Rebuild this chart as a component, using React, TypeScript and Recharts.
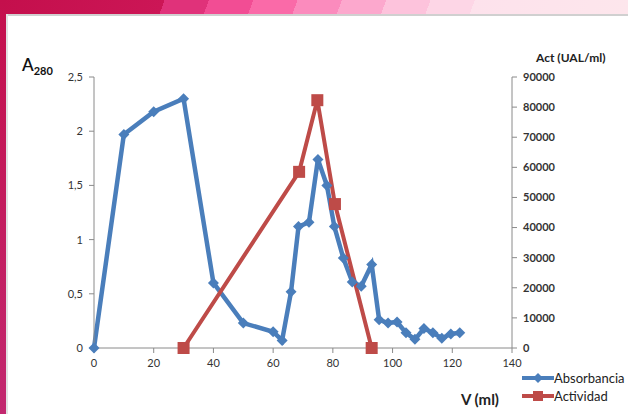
import React from "react"
import { ComposedChart, Line, XAxis, YAxis } from "recharts"

// Absorbancia (A280) vs V (ml)
const absVolumes = [0, 10, 20, 30, 40, 50, 60, 63, 66, 68.5, 72, 75, 78, 80.5, 83.5, 86.5, 89.5, 93, 95.5, 98.5, 101.5, 104.5, 107.5, 110.5, 113.5, 116.5, 119.5, 122.5]
const absValues = [0, 1.97, 2.18, 2.3, 0.6, 0.23, 0.15, 0.07, 0.52, 1.12, 1.16, 1.74, 1.5, 1.12, 0.83, 0.61, 0.57, 0.77, 0.26, 0.23, 0.24, 0.14, 0.08, 0.18, 0.14, 0.09, 0.13, 0.14]

// Actividad (UAL/ml) vs V (ml)
const actVolumes = [30, 68.7, 74.8, 80.7, 93]
const actValues = [0, 58500, 82300, 47800, 0]

const xTicks = [0, 20, 40, 60, 80, 100, 120, 140]
const leftTicks = [0, 0.5, 1, 1.5, 2, 2.5]
const rightTicks = [0, 10000, 20000, 30000, 40000, 50000, 60000, 70000, 80000, 90000]

const absData = absVolumes.map((x, i) => ({ x, abs: absValues[i] }))
const actData = actVolumes.map((x, i) => ({ x, act: actValues[i] }))

const BLUE = "#4a7ebb"
const RED = "#be4b48"
const FONT = "Lato, 'Open Sans', sans-serif"

const Diamond = (props: any) => {
  const { cx, cy, key } = props
  if (cx == null || cy == null) return null
  const r = 5.5
  return <path key={key} d={`M${cx},${cy - r}L${cx + r},${cy}L${cx},${cy + r}L${cx - r},${cy}Z`} fill={BLUE} />
}

const Square = (props: any) => {
  const { cx, cy, key } = props
  if (cx == null || cy == null) return null
  const s = 12
  return <rect key={key} x={cx - s / 2} y={cy - s / 2} width={s} height={s} fill={RED} />
}

const LegendBox = () => (
  <div style={{ fontFamily: FONT, fontSize: 13, color: "#222", lineHeight: "18px" }}>
    <div style={{ display: "flex", alignItems: "center" }}>
      <svg width={32} height={12}>
        <line x1={0} y1={6} x2={32} y2={6} stroke={BLUE} strokeWidth={4} />
        <path d="M16,1L21,6L16,11L11,6Z" fill={BLUE} />
      </svg>
      <span>Absorbancia</span>
    </div>
    <div style={{ display: "flex", alignItems: "center" }}>
      <svg width={32} height={12}>
        <line x1={0} y1={6} x2={32} y2={6} stroke={RED} strokeWidth={4} />
        <rect x={11} y={1} width={10} height={10} fill={RED} />
      </svg>
      <span>Actividad</span>
    </div>
  </div>
)

export default function App() {
  const tick = { fill: "#333", fontSize: 11, fontFamily: FONT }
  return (
    <div style={{ position: "absolute", left: 0, top: 0, width: 628, height: 414, overflow: "hidden", background: "#fff" }}>
      <div
        style={{
          position: "absolute", left: 0, top: 0, width: 628, height: 14,
          background:
            "linear-gradient(110deg, #c40f4c 0%, #cc1656 26%, #e0327a 26%, #e0327a 33%, #f24d94 33%, #f24d94 40%, #fa6aa8 40%, #fa6aa8 47%, #fb8bbd 47%, #fb8bbd 54%, #fca8cd 54%, #fca8cd 61%, #fdc3dc 61%, #fdc3dc 68%, #fdd6e6 68%, #fdd6e6 75%, #fde2ec 75%, #fde6ec 100%)",
        }}
      />
      <div style={{ position: "absolute", left: 0, top: 0, width: 6, height: 414, background: "linear-gradient(180deg, #c40f4c, #c2286f)" }} />
      <div style={{ position: "absolute", left: 6, top: 14, width: 622, height: 2, background: "#d0d0d0" }} />
      <div style={{ position: "absolute", left: 6, top: 14, width: 2, height: 400, background: "#e2e2e2" }} />

      <div style={{ position: "absolute", left: 22, top: 54, fontFamily: FONT, fontSize: 17, fontWeight: 600, color: "#111" }}>
        A<sub style={{ fontSize: 11, fontWeight: 700 }}>280</sub>
      </div>
      <div style={{ position: "absolute", left: 536, top: 50, fontFamily: FONT, fontSize: 12, fontWeight: 700, color: "#222" }}>
        Act (UAL/ml)
      </div>
      <div style={{ position: "absolute", left: 461, top: 390, fontFamily: FONT, fontSize: 15, fontWeight: 700, color: "#222" }}>
        V (ml)
      </div>

      <div style={{ position: "absolute", left: 0, top: 0 }}>
        <ComposedChart width={628} height={414} margin={{ top: 77, right: 56, bottom: 36, left: 34 }}>
          <XAxis
            dataKey="x"
            type="number"
            domain={[0, 140]}
            ticks={xTicks}
            interval={0}
            allowDuplicatedCategory={false}
            stroke="#8a8a8a"
            tickSize={5}
            tickMargin={6}
            tick={tick}
            height={30}
          />
          <YAxis
            yAxisId="a"
            domain={[0, 2.5]}
            ticks={leftTicks}
            interval={0}
            width={60}
            stroke="#8a8a8a"
            tickSize={5}
            tickMargin={6}
            tick={tick}
            tickFormatter={(v: number) => String(v).replace(".", ",")}
          />
          <YAxis
            yAxisId="b"
            orientation="right"
            domain={[0, 90000]}
            ticks={rightTicks}
            interval={0}
            width={60}
            stroke="#8a8a8a"
            tickSize={5}
            tickMargin={6}
            tick={{ ...tick, fontWeight: 700 }}
          />
          <Line
            yAxisId="a"
            data={absData}
            dataKey="abs"
            stroke={BLUE}
            strokeWidth={4.5}
            dot={Diamond}
            activeDot={false}
            isAnimationActive={false}
            name="Absorbancia"
          />
          <Line
            yAxisId="b"
            data={actData}
            dataKey="act"
            stroke={RED}
            strokeWidth={4}
            dot={Square}
            activeDot={false}
            isAnimationActive={false}
            name="Actividad"
          />
        </ComposedChart>
      </div>

      <div style={{ position: "absolute", left: 522, top: 369 }}>
        <LegendBox />
      </div>
    </div>
  )
}
